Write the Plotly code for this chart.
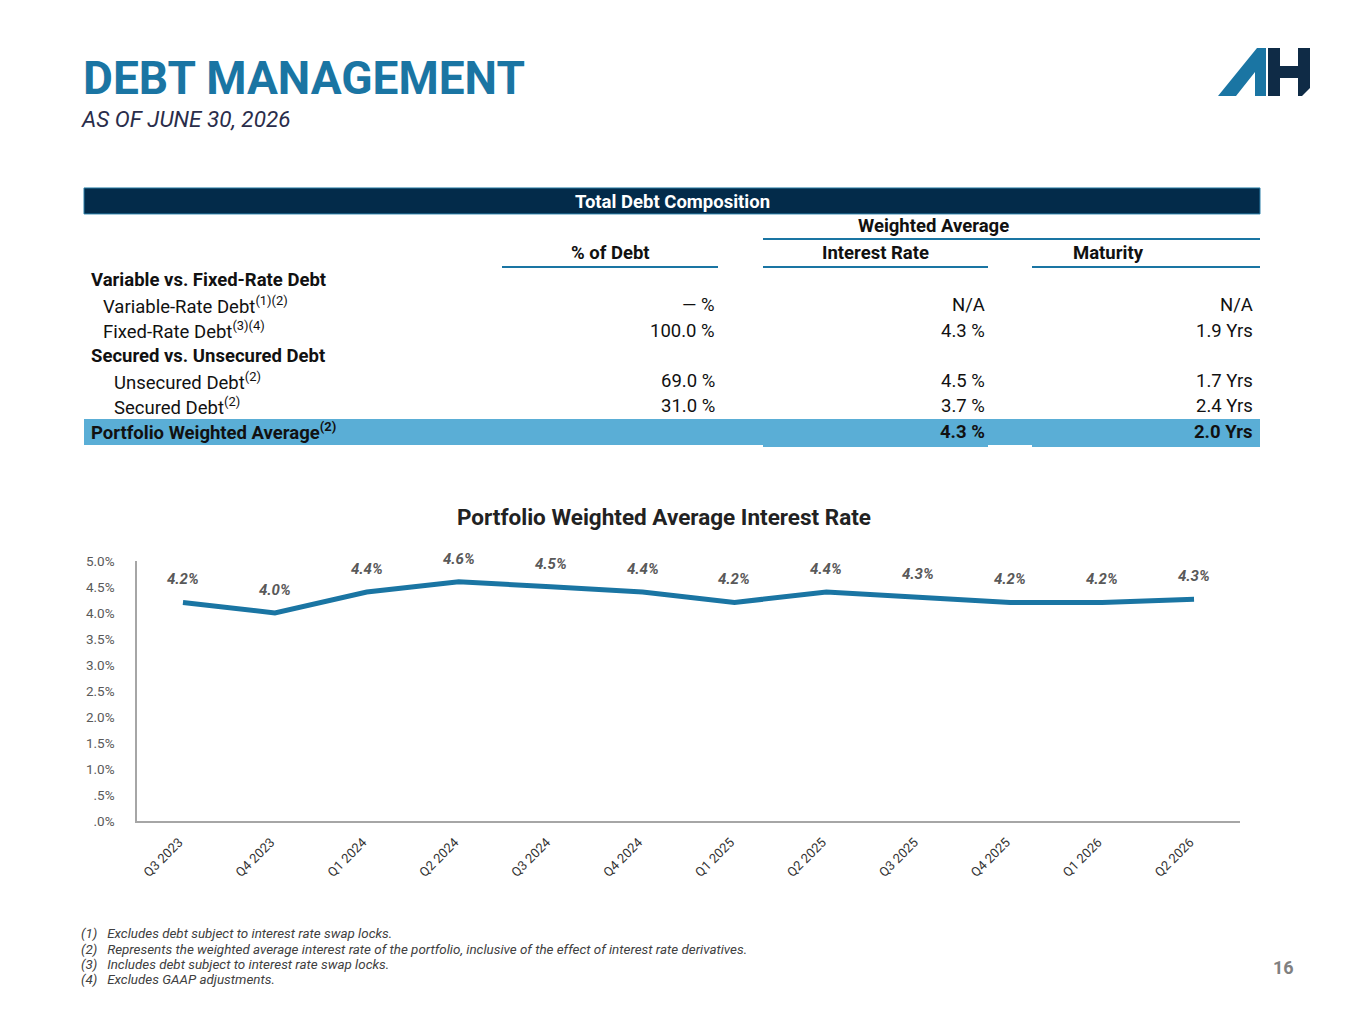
import plotly.graph_objects as go

W, H = 1365, 1024

# chart data
quarters = ["Q3 2023", "Q4 2023", "Q1 2024", "Q2 2024", "Q3 2024", "Q4 2024",
            "Q1 2025", "Q2 2025", "Q3 2025", "Q4 2025", "Q1 2026", "Q2 2026"]
rates = [4.2, 4.0, 4.4, 4.6, 4.5, 4.4, 4.2, 4.4, 4.3, 4.2, 4.2, 4.26]
y_ticks = [0, 0.5, 1.0, 1.5, 2.0, 2.5, 3.0, 3.5, 4.0, 4.5, 5.0]
y_tick_labels = [".0%", ".5%", "1.0%", "1.5%", "2.0%", "2.5%", "3.0%", "3.5%", "4.0%", "4.5%", "5.0%"]

# table data
row_labels = ["Variable vs. Fixed-Rate Debt", "Variable-Rate Debt<sup>(1)(2)</sup>",
              "Fixed-Rate Debt<sup>(3)(4)</sup>", "Secured vs. Unsecured Debt",
              "Unsecured Debt<sup>(2)</sup>", "Secured Debt<sup>(2)</sup>",
              "Portfolio Weighted Average<sup>(2)</sup>"]
pct_of_debt = ["", "— %", "100.0 %", "", "69.0 %", "31.0 %", ""]
interest_rate = ["", "N/A", "4.3 %", "", "4.5 %", "3.7 %", "4.3 %"]
maturity = ["", "N/A", "1.9 Yrs", "", "1.7 Yrs", "2.4 Yrs", "2.0 Yrs"]

footnotes = [
    "(1)   Excludes debt subject to interest rate swap locks.",
    "(2)   Represents the weighted average interest rate of the portfolio, inclusive of the effect of interest rate derivatives.",
    "(3)   Includes debt subject to interest rate swap locks.",
    "(4)   Excludes GAAP adjustments.",
]

BLUE = "#1a75a3"
NAVY = "#032b4a"
BAND = "#5aaed6"
FONT = "Roboto"
TXT = 18.5

# the page came out a little squeezed vertically, so map screen rows onto the figure
Y_OFF, Y_SCALE = 8, 0.9846


def px(x):
    return x / W


def py(y):
    return 1 - ((y - Y_OFF) / Y_SCALE) / H


fig = go.Figure()
fig.add_trace(go.Scatter(x=quarters, y=rates, mode="lines",
                         line=dict(color=BLUE, width=5), hoverinfo="skip"))

ann = []
shapes = []

# data labels
for q, r in zip(quarters, rates):
    ann.append(dict(x=q, y=r, xref="x", yref="y", text=f"<b><i>{r:.1f}%</i></b>",
                    showarrow=False, yshift=23, font=dict(family=FONT, size=15, color="#595959")))

# header texts
ann.append(dict(x=px(81), y=py(78), text="<b>DEBT MANAGEMENT</b>", xanchor="left", yanchor="middle",
                font=dict(family=FONT, size=46, color=BLUE)))
ann.append(dict(x=px(79), y=py(119), text="<i>AS OF JUNE 30, 2026</i>", xanchor="left", yanchor="middle",
                font=dict(family=FONT, size=22.5, color="#2a2d4a")))

# logo
shapes.append(dict(type="path", xref="paper", yref="paper", line=dict(width=0), fillcolor=BLUE,
                   path=f"M {px(1218)},{py(96)} L {px(1257)},{py(48)} L {px(1266)},{py(48)} "
                        f"L {px(1266)},{py(96)} L {px(1255)},{py(96)} L {px(1255)},{py(72)} "
                        f"L {px(1236)},{py(96)} Z"))
shapes.append(dict(type="path", xref="paper", yref="paper", line=dict(width=0), fillcolor="#0f2b46",
                   path=f"M {px(1268)},{py(48)} L {px(1280)},{py(48)} L {px(1280)},{py(66)} "
                        f"L {px(1298)},{py(66)} L {px(1298)},{py(48)} L {px(1310)},{py(48)} "
                        f"L {px(1310)},{py(88)} L {px(1302)},{py(96)} L {px(1298)},{py(96)} "
                        f"L {px(1298)},{py(78)} L {px(1280)},{py(78)} L {px(1280)},{py(96)} "
                        f"L {px(1268)},{py(96)} Z"))

# table header bar
shapes.append(dict(type="rect", xref="paper", yref="paper", x0=px(84), x1=px(1260), y0=py(214), y1=py(188),
                   fillcolor=NAVY, line=dict(color="#2a7fa8", width=1)))
ann.append(dict(x=px(672), y=py(202), text="<b>Total Debt Composition</b>", yanchor="middle",
                font=dict(family=FONT, size=18.5, color="white")))
ann.append(dict(x=px(1011), y=py(226), text="<b>Weighted Average</b>", yanchor="middle",
                font=dict(family=FONT, size=TXT, color="#111")))
shapes.append(dict(type="line", xref="paper", yref="paper", x0=px(763), x1=px(1260), y0=py(239), y1=py(239),
                   line=dict(color=BLUE, width=2)))
for label, x0, x1 in [("% of Debt", 502, 718), ("Interest Rate", 763, 988), ("Maturity", 1032, 1260)]:
    ann.append(dict(x=px((x0 + x1) / 2), y=py(253), text=f"<b>{label}</b>", yanchor="middle",
                    font=dict(family=FONT, size=TXT, color="#111")))
    shapes.append(dict(type="line", xref="paper", yref="paper", x0=px(x0), x1=px(x1), y0=py(267), y1=py(267),
                       line=dict(color=BLUE, width=2)))

# highlighted total row
shapes.append(dict(type="rect", xref="paper", yref="paper", x0=px(84), x1=px(1260), y0=py(445), y1=py(419),
                   fillcolor=BAND, line=dict(width=0), layer="below"))
for x0, x1 in [(763, 988), (1032, 1260)]:
    shapes.append(dict(type="rect", xref="paper", yref="paper", x0=px(x0), x1=px(x1), y0=py(447), y1=py(419),
                       fillcolor=BAND, line=dict(width=0), layer="below"))

bold_rows = [0, 3, 6]
indents = [89, 101, 101, 89, 112, 112, 89]
for i, lab in enumerate(row_labels):
    y = py(280 + i * 25.3)
    b = i in bold_rows
    wrap = (lambda t: f"<b>{t}</b>") if b else (lambda t: t)
    ann.append(dict(x=px(indents[i]), y=y, text=wrap(lab), xanchor="left", yanchor="middle",
                    font=dict(family=FONT, size=TXT, color="#111")))
    for col, xr in [(pct_of_debt, 717), (interest_rate, 987), (maturity, 1255)]:
        if col[i]:
            ann.append(dict(x=px(xr), y=y, text=wrap(col[i]), xanchor="right", yanchor="middle",
                            font=dict(family=FONT, size=TXT, color="#111")))

# chart title
ann.append(dict(x=px(664), y=py(517), text="<b>Portfolio Weighted Average Interest Rate</b>", yanchor="middle",
                font=dict(family=FONT, size=22.5, color="#222")))

# footnotes
for i, f in enumerate(footnotes):
    ann.append(dict(x=px(79), y=py(934 + i * 15.4), text=f"<i>{f}</i>", xanchor="left", yanchor="middle",
                    font=dict(family=FONT, size=13.4, color="#404040")))

ann.append(dict(x=px(1296), y=py(968), text="<b>16</b>", xanchor="right", yanchor="middle",
                font=dict(family=FONT, size=18, color="#808080")))

for a in ann:
    a.setdefault("xref", "paper")
    a.setdefault("yref", "paper")
    a.setdefault("showarrow", False)

fig.update_layout(
    width=W, height=H,
    margin=dict(l=0, r=0, t=0, b=0),
    paper_bgcolor="white", plot_bgcolor="white",
    showlegend=False,
    annotations=ann,
    shapes=shapes,
    xaxis=dict(domain=[px(137), px(1240)], range=[-0.5, 11.5], showgrid=False, zeroline=False,
               showline=True, linecolor="#a6a6a6", linewidth=1.5, tickangle=-45, ticks="",
               ticklabelstandoff=7, ticklabelshift=-4,
               tickfont=dict(family=FONT, size=13, color="#333")),
    yaxis=dict(domain=[py(821), py(561)], range=[0, 5.0], tickvals=y_ticks, ticktext=y_tick_labels,
               showgrid=False, zeroline=False, showline=True, linecolor="#a6a6a6", linewidth=1.5,
               ticks="", ticklabelstandoff=18, tickfont=dict(family=FONT, size=13.5, color="#595959")),
)

# drop the default page margin so the figure sits at the window's corner
fig.write_html("out.html", config={"displayModeBar": False},
               post_script="document.body.style.margin='0';")
